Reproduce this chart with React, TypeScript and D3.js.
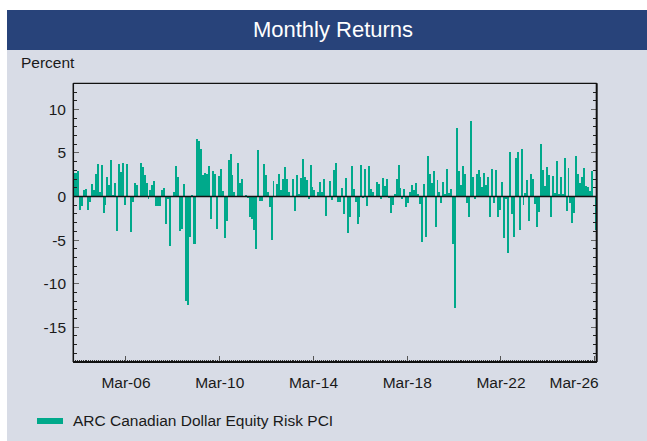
import React from "react";
import * as d3 from "d3";

// monthly returns (%), one array per calendar year
const ret2003 = [2.7];
const ret2004 = [2.7, 2.9, -1.6, -1.1, 0.8, 0.9, -1.6, -0.6, 1.4, 0.8, 2.6, 3.7];
const ret2005 = [0.5, 3.6, -1.9, -1.0, 2.2, 1.3, 4.2, 0.2, 1.6, -4.0, 3.7, 2.8];
const ret2006 = [3.8, -1.0, 3.7, 0, -4.1, -0.6, 1.5, 1.3, 0.1, 3.8, 3.4, 2.5];
const ret2007 = [1.6, -0.3, 0.8, 1.3, 1.8, -1.1, -1.1, -1.1, 0.7, 1.0, -3.2, -0.3];
const ret2008 = [-5.7, 0, 0.5, 3.5, 2.2, -4.0, -3.7, 1.4, -12.0, -12.4, -4.7, 0.2];
const ret2009 = [-5.4, -5.5, 6.6, 6.4, 5.4, 2.5, 2.7, 2.6, 3.5, -2.6, 2.9, 2.6];
const ret2010 = [-3.7, 2.3, 3.2, 0.6, -4.8, -2.8, 4.2, 4.9, 2.5, 0.5, 0, 3.8];
const ret2011 = [1.5, 2.0, 0, 0.15, -0.2, -2.4, -2.6, -3.9, -6.0, 5.3, -0.5, -0.5];
const ret2012 = [3.7, 2.5, 0.5, -1.2, -5.0, 1.8, 0, 1.4, 2.6, 0.8, 2.0, 3.4];
const ret2013 = [2.0, 0.5, 0, 2.0, -1.7, 2.5, 0.3, 2.1, 4.3, 2.2, 1.9, -0.3];
const ret2014 = [3.6, 1.1, 0.8, 0, 0.5, 1.7, 0.5, 2.0, -2.2, 0, 1.8, -0.4];
const ret2015 = [3.0, 3.8, -0.65, -0.65, 1.0, -2.0, 2.1, -4.2, -2.4, 3.5, 0.85, -0.65];
const ret2016 = [-3.1, -2.3, 3.6, -0.2, 3.15, -1.1, 3.5, 0.85, 0.5, 0, 1.65, 1.4];
const ret2017 = [-0.3, 2.1, 1.2, 2.0, -0.2, -1.9, -1.0, 0.3, 2.0, 3.6, 1.0, -0.3];
const ret2018 = [0.85, -1.2, -0.8, 0.5, 1.3, 0.7, 1.5, 0.3, -0.9, -5.2, 1.4, -4.6];
const ret2019 = [4.65, 2.6, 1.5, 2.9, -3.5, 1.9, 0.5, -0.8, 1.65, 0.3, 3.15, 0.4];
const ret2020 = [0.85, -5.4, -12.8, 7.9, 2.9, 1.3, 3.5, 2.6, -0.8, -2.4, 8.7, 2.2];
const ret2021 = [-0.3, 2.6, 3.0, 2.2, 1.1, 2.7, 1.3, 2.2, -2.4, 3.15, -0.8, 3.0];
const ret2022 = [-2.3, -1.5, 1.65, -4.8, -0.3, -6.5, 5.1, -2.0, -4.7, 4.4, 5.1, -3.9];
const ret2023 = [5.45, -1.0, 0.4, 1.9, -2.85, 2.6, 2.0, -0.9, -3.5, -1.8, 6.0, 3.0];
const ret2024 = [1.2, 3.4, 2.5, -2.4, 2.3, 0.4, 4.1, 0.3, 2.2, 0.3, 4.4, -1.7];
const ret2025 = [3.3, -0.8, -3.0, -1.9, 4.65, 2.6, 1.5, 2.2, 3.3, 1.2, 1.1, 0.6];
const ret2026 = [2.9, 0, -3.8];

const allReturns = [
  ...ret2003, ...ret2004, ...ret2005, ...ret2006, ...ret2007, ...ret2008,
  ...ret2009, ...ret2010, ...ret2011, ...ret2012, ...ret2013, ...ret2014,
  ...ret2015, ...ret2016, ...ret2017, ...ret2018, ...ret2019, ...ret2020,
  ...ret2021, ...ret2022, ...ret2023, ...ret2024, ...ret2025, ...ret2026,
];

const yTickValues = [10, 5, 0, -5, -10, -15];
const xTickLabels = ["Mar-06", "Mar-10", "Mar-14", "Mar-18", "Mar-22", "Mar-26"];
const seriesName = "ARC Canadian Dollar Equity Risk PCI";

const FONT = "'Liberation Sans', Arial, sans-serif";
const TEAL = "#00a98b";

function App() {
  const W = 647;
  const H = 441;
  const plot = { left: 73.3, right: 596.7, top: 83.3, bottom: 362 };

  const start = d3.utcMonth.floor(new Date(Date.UTC(2003, 11, 1)));
  const end = new Date(Date.UTC(2026, 3, 1));
  const months = allReturns.map((v, i) => ({ date: d3.utcMonth.offset(start, i), value: v }));

  const x = d3.scaleUtc().domain([start, end]).range([plot.left, plot.right]);
  const y = d3.scaleLinear().domain([-19, 13]).range([plot.bottom, plot.top]);

  const minorY = d3.range(-19, 14);
  const monthTicks = d3.utcMonth.range(start, end);
  const majorX = xTickLabels.map((lab) => {
    const yr = 2000 + +lab.slice(4);
    return { lab, date: new Date(Date.UTC(yr, 2, 1)) };
  });

  return (
    <svg
      width={W}
      height={H}
      style={{ position: "absolute", left: 0, top: 0, display: "block" }}
    >
      <rect x={7} y={50} width={W - 7} height={H - 50} fill="#d8dce6" />
      <rect x={7} y={10} width={W - 7} height={40} fill="#28437a" />
      <text x={333} y={37} textAnchor="middle" fill="#fff" fontFamily={FONT} fontSize={22}>
        Monthly Returns
      </text>
      <text x={21} y={68} fill="#1a1a1a" fontFamily={FONT} fontSize={15.5}>
        Percent
      </text>

      {/* bars */}
      <g shapeRendering="crispEdges">
        {months.map((d, i) => {
          const x0 = x(d.date);
          const x1 = x(d3.utcMonth.offset(d.date, 1));
          const v = d.value;
          if (v === 0) return null;
          return (
            <rect
              key={i}
              x={x0}
              width={x1 - x0}
              y={v > 0 ? y(v) : y(0)}
              height={Math.abs(y(v) - y(0))}
              fill={TEAL}
            />
          );
        })}
      </g>

      {/* y ticks, inward on both sides */}
      <g shapeRendering="crispEdges">
        {minorY.map((t) => {
          const major = t % 5 === 0;
          const len = major ? 6 : 4;
          const col = major ? "#666" : "#222";
          return (
            <g key={t}>
              <line x1={plot.left} x2={plot.left + len} y1={y(t)} y2={y(t)} stroke={col} strokeWidth={1} />
              <line x1={plot.right - len} x2={plot.right} y1={y(t)} y2={y(t)} stroke={col} strokeWidth={1} />
            </g>
          );
        })}
        {monthTicks.map((m, i) => (
          <line
            key={i}
            x1={x(m)}
            x2={x(m)}
            y1={plot.bottom}
            y2={plot.bottom - 2.5}
            stroke="#333"
            strokeWidth={1}
          />
        ))}
        {majorX.map((d) => (
          <line
            key={d.lab}
            x1={x(d.date)}
            x2={x(d.date)}
            y1={plot.bottom}
            y2={plot.bottom - 6}
            stroke="#555"
            strokeWidth={1}
          />
        ))}
      </g>

      {yTickValues.map((t) => (
        <text
          key={t}
          x={66}
          y={y(t) + 5.5}
          textAnchor="end"
          fill="#1a1a1a"
          fontFamily={FONT}
          fontSize={15.5}
        >
          {t}
        </text>
      ))}

      {majorX.map((d, i) => {
        const last = i === majorX.length - 1;
        return (
          <text
            key={d.lab}
            x={last ? plot.right + 2 : x(d.date)}
            y={388}
            textAnchor={last ? "end" : "middle"}
            fill="#1a1a1a"
            fontFamily={FONT}
            fontSize={15.5}
          >
            {d.lab}
          </text>
        );
      })}

      {/* frame and zero line */}
      <line x1={plot.left} x2={plot.right} y1={plot.top} y2={plot.top} stroke="#111" strokeWidth={1.2} />
      <line x1={plot.left} x2={plot.left} y1={plot.top} y2={plot.bottom} stroke="#111" strokeWidth={1.5} />
      <line x1={plot.right} x2={plot.right} y1={plot.top} y2={plot.bottom} stroke="#111" strokeWidth={2} />
      <line x1={plot.left} x2={plot.right} y1={plot.bottom} y2={plot.bottom} stroke="#111" strokeWidth={2} />
      <line x1={plot.left} x2={plot.right} y1={y(0)} y2={y(0)} stroke="#111" strokeWidth={1.5} />

      {/* legend */}
      <rect x={37} y={418} width={26} height={6} fill={TEAL} />
      <text x={73} y={426} fill="#1a1a1a" fontFamily={FONT} fontSize={15.5}>
        {seriesName}
      </text>
    </svg>
  );
}

export default App;
